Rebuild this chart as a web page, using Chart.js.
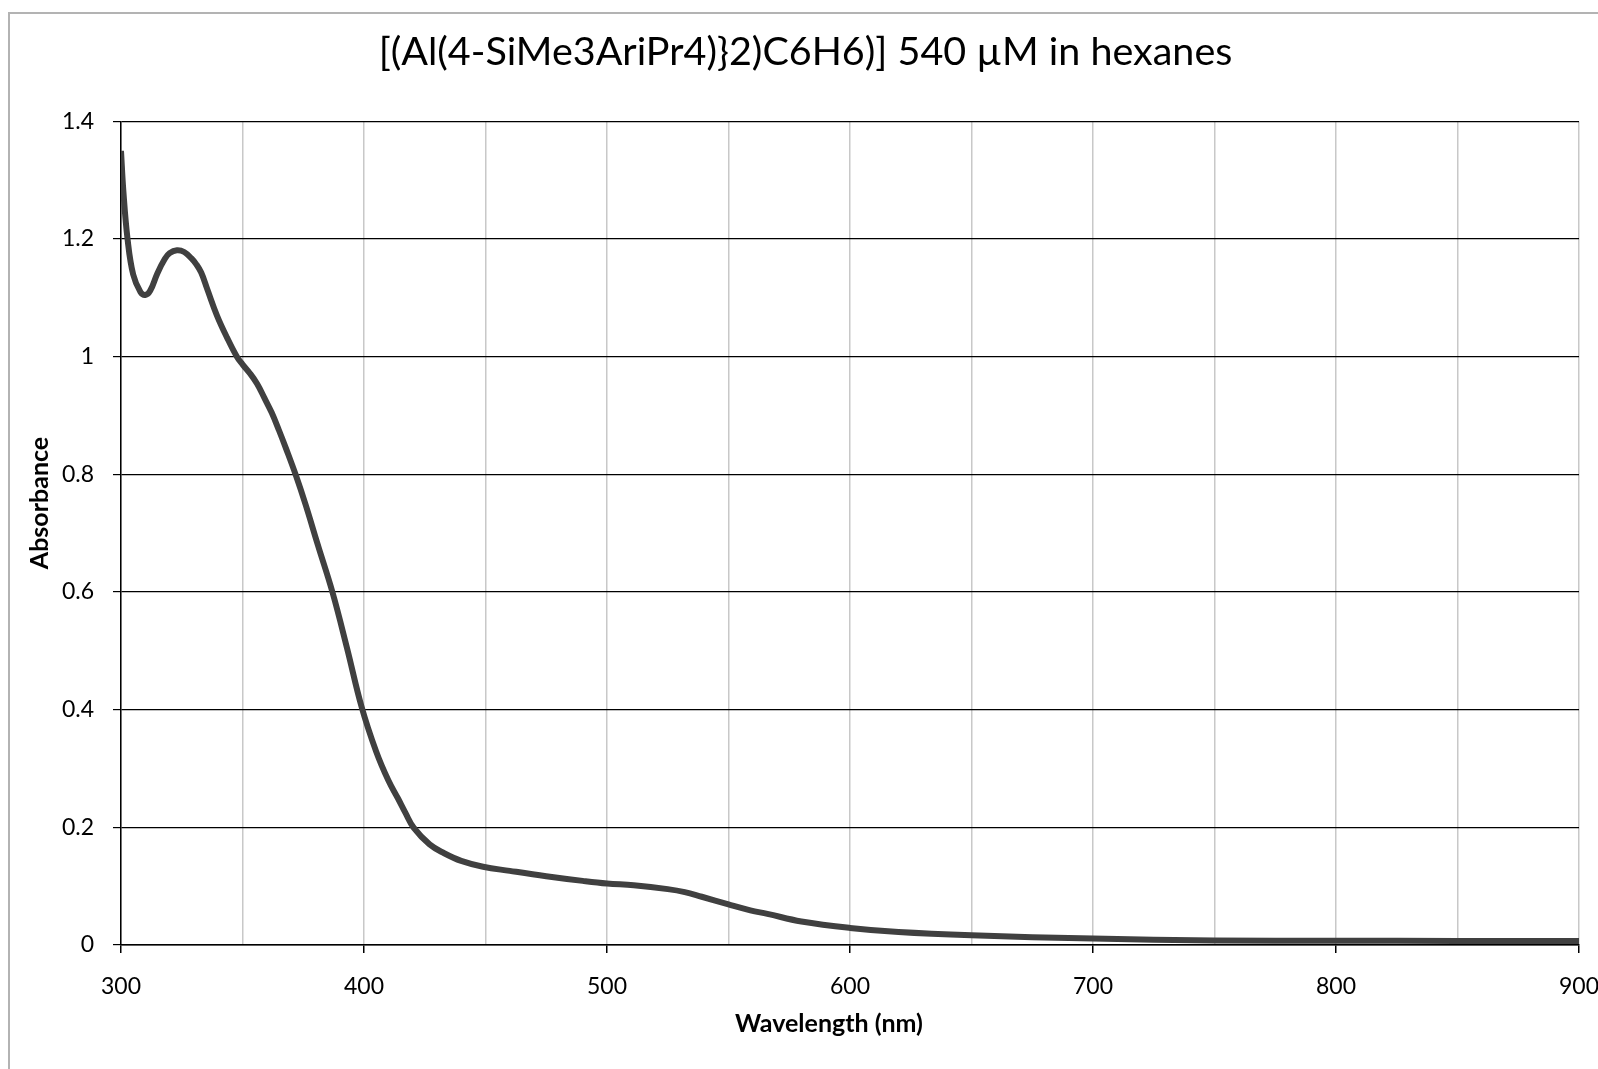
<!DOCTYPE html>
<html>
<head>
<meta charset="utf-8">
<script src="https://cdn.jsdelivr.net/npm/chart.js@4"></script>
<style>
  html, body { margin: 0; padding: 0; background: #fff; }
  #wrap { width: 1598px; height: 1069px; }
</style>
</head>
<body>
<div id="wrap"><canvas id="specChart" width="1598" height="1069"></canvas></div>
<script>
const titleText = "[(Al(4-SiMe3AriPr4)}2)C6H6)] 540 µM in hexanes";
const xTitle = "Wavelength (nm)";
const yTitle = "Absorbance";

// wavelength (nm) and absorbance
const wavelengths = [300, 301, 302.7, 305, 308, 310, 312, 315, 318, 320, 323, 326, 329, 331, 333, 335.4, 339.5, 343.7, 347.7, 350, 353, 356, 359, 362, 365, 368, 372, 376, 381, 387, 393, 399, 405, 410, 414, 417, 420.5, 427, 433, 440, 449, 460, 475, 490, 500, 511, 525, 532, 539, 550, 559, 566, 580, 600, 620, 650, 700, 750, 800, 850, 900];
const absorbance = [1.35, 1.28, 1.20, 1.14, 1.11, 1.105, 1.112, 1.142, 1.166, 1.176, 1.181, 1.178, 1.167, 1.157, 1.143, 1.116, 1.070, 1.032, 1.0, 0.987, 0.972, 0.954, 0.93, 0.905, 0.875, 0.843, 0.798, 0.748, 0.68, 0.60, 0.505, 0.405, 0.329, 0.28, 0.249, 0.225, 0.199, 0.171, 0.156, 0.143, 0.133, 0.126, 0.117, 0.109, 0.1045, 0.1015, 0.095, 0.09, 0.082, 0.069, 0.059, 0.053, 0.04, 0.029, 0.022, 0.0165, 0.011, 0.0078, 0.0072, 0.007, 0.0068];

const xTickLabels = [300, 400, 500, 600, 700, 800, 900];

const points = wavelengths.map((w, i) => ({ x: w, y: absorbance[i] }));

// grey frame round the whole chart, like the spreadsheet export
const frame = {
  id: "frame",
  beforeDraw(chart) {
    const ctx = chart.ctx;
    ctx.save();
    ctx.fillStyle = "#fff";
    ctx.fillRect(0, 0, chart.width, chart.height);
    ctx.strokeStyle = "#b3b3b3";
    ctx.lineWidth = 2;
    ctx.strokeRect(9, 13, chart.width + 20, chart.height + 20);
    ctx.restore();
  }
};

// axis titles sit a little off-centre in the original, so draw them here
const axisTitles = {
  id: "axisTitles",
  afterDraw(chart) {
    const ctx = chart.ctx;
    ctx.save();
    ctx.fillStyle = "#000";
    ctx.font = "bold 25px Lato";
    ctx.textAlign = "center";
    ctx.textBaseline = "middle";
    ctx.fillText(xTitle, 829, 1024);
    ctx.translate(40, 503);
    ctx.rotate(-Math.PI / 2);
    ctx.fillText(yTitle, 0, 0);
    ctx.restore();
  }
};

new Chart("specChart", {
  type: "line",
  data: {
    datasets: [{
      data: points,
      borderColor: "#404040",
      borderWidth: 6,
      pointRadius: 0,
      tension: 0.4,
      fill: false
    }]
  },
  options: {
    responsive: false,
    animation: false,
    layout: { padding: { left: 15, right: 2, top: 10, bottom: 20 } },
    plugins: {
      legend: { display: false },
      tooltip: { enabled: false },
      title: {
        display: true,
        text: titleText,
        color: "#000",
        font: { family: "Lato", size: 39.5, weight: "normal" },
        padding: { top: 19, bottom: 45 }
      }
    },
    scales: {
      x: {
        type: "linear",
        min: 300,
        max: 900,
        afterFit: s => { s.height = 104; s.paddingRight = 19; s.paddingLeft = 0; },
        ticks: {
          stepSize: 50,
          autoSkip: false,
          maxRotation: 0,
          padding: 20,
          color: "#000",
          font: { family: "Lato", size: 23 },
          callback: v => xTickLabels.includes(v) ? String(v) : ""
        },
        grid: {
          color: "#c8c8c8",
          lineWidth: 1.5,
          tickLength: 8,
          tickColor: ctx => (ctx.tick && ctx.tick.value % 100 === 0) ? "#000" : "rgba(0,0,0,0)"
        },
        border: { color: "#000", width: 1.5 }
      },
      y: {
        min: 0,
        max: 1.4,
        afterFit: s => { s.width = 106; },
        ticks: {
          stepSize: 0.2,
          padding: 19,
          color: "#000",
          font: { family: "Lato", size: 23 },
          callback: v => String(+v.toFixed(1))
        },
        grid: {
          color: "#000",
          lineWidth: 1.2,
          tickLength: 8
        },
        border: { color: "#000", width: 1.5 }
      }
    }
  },
  plugins: [frame, axisTitles]
});
</script>
</body>
</html>
